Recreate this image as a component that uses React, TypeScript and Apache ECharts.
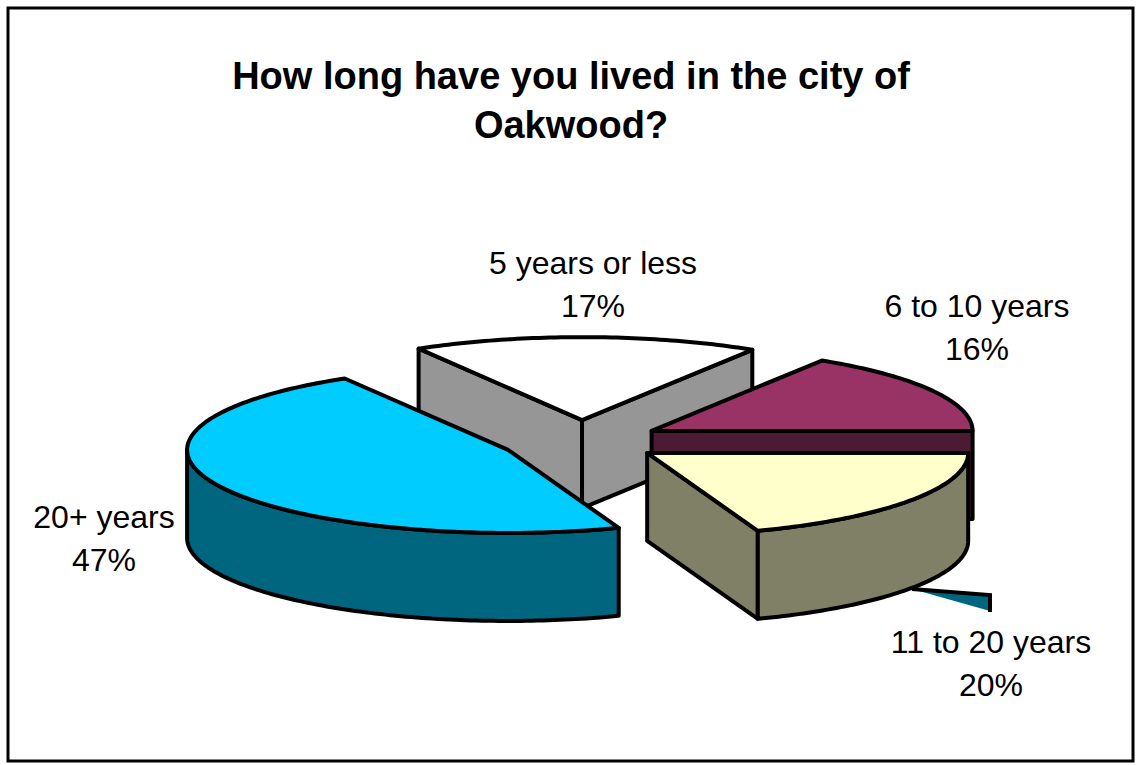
import React, { useEffect, useRef } from "react";
import * as echarts from "echarts";

const categories = ["5 years or less", "6 to 10 years", "11 to 20 years", "20+ years"];
const shares = [17.4, 16.1, 19.4, 47.1];
const percentLabels = ["17%", "16%", "20%", "47%"];
const topColors = ["#ffffff", "#993366", "#ffffcc", "#00ccff"];
const wallColors = ["#969696", "#4d1a33", "#808066", "#006680"];
const labelCenters = [
  [593, 284],
  [977, 327],
  [991, 663],
  [104, 538],
];

const FONT = '"Liberation Sans", Arial, sans-serif';
const PIE = { cx: 581, cy: 441, rx: 321, ry: 83, depth: 88, explode: 80.7, start: 239.4 };
const STROKE = { stroke: "#000", lineWidth: 4, lineJoin: "round" as const };
const total = shares.reduce((a, b) => a + b, 0);

function rad(d: number) {
  return (d * Math.PI) / 180;
}

function renderItem(_params: any, api: any) {
  const i = _params.dataIndex;
  const before = shares.slice(0, i).reduce((a, b) => a + b, 0);
  const value = api.value(0);
  const sweep = (value / total) * 360;
  const raw0 = PIE.start + (before / total) * 360;
  const t0 = raw0 >= 359.999 ? raw0 - 360 : raw0;
  const t1 = t0 + sweep;
  const mid = rad((t0 + t1) / 2);
  const cx = PIE.cx + PIE.explode * Math.cos(mid);
  const cy = PIE.cy + (PIE.explode * Math.sin(mid) * PIE.ry) / PIE.rx;
  const at = (t: number, down = 0) => [
    cx + PIE.rx * Math.cos(rad(t)),
    cy + PIE.ry * Math.sin(rad(t)) + down,
  ];
  const arc = (a: number, b: number, down = 0) => {
    const pts: number[][] = [];
    const n = Math.max(1, Math.ceil(Math.abs(b - a)));
    for (let k = 0; k <= n; k++) pts.push(at(a + ((b - a) * k) / n, down));
    return pts;
  };
  const poly = (points: number[][], fill: string) => ({
    type: "polygon",
    shape: { points },
    style: { fill, ...STROKE },
  });
  const children: any[] = [];
  const wall = wallColors[i];
  const radial = (t: number) =>
    poly([[cx, cy], at(t), at(t, PIE.depth), [cx, cy + PIE.depth]], wall);
  if (Math.cos(rad(t0)) < 0) children.push(radial(t0));
  if (Math.cos(rad(t1)) > 0) children.push(radial(t1));
  const f0 = Math.max(t0, 0);
  const f1 = Math.min(t1, 180);
  if (f1 > f0) {
    children.push(poly([...arc(f0, f1), ...arc(f1, f0, PIE.depth)], wall));
  }
  children.push(poly([[cx, cy], ...arc(t0, t1)], topColors[i]));
  children.push({
    type: "text",
    style: {
      text: `${categories[i]}\n${percentLabels[i]}`,
      x: labelCenters[i][0],
      y: labelCenters[i][1],
      align: "center",
      verticalAlign: "middle",
      fill: "#000",
      font: `32px ${FONT}`,
      lineHeight: 43,
    },
  });
  return { type: "group", children };
}

export default function App() {
  const ref = useRef<HTMLDivElement>(null);
  useEffect(() => {
    document.body.style.margin = "0";
    const chart = echarts.init(ref.current!, null, { renderer: "svg" });
    chart.setOption({
      animation: false,
      backgroundColor: "#fff",
      title: {
        text: "How long have you lived in the city of\nOakwood?",
        left: 566,
        top: 46,
        textAlign: "center",
        textStyle: {
          fontFamily: FONT,
          fontSize: 38,
          fontWeight: "bold",
          color: "#000",
          lineHeight: 49,
        },
      },
      graphic: [
        {
          type: "rect",
          z: 0,
          shape: { x: 8, y: 8, width: 1125, height: 753 },
          style: { fill: "none", stroke: "#000", lineWidth: 3 },
        },
        {
          type: "polygon",
          z: 0,
          shape: { points: [[912, 589], [990, 595], [990, 611]] },
          style: { fill: "#006680", stroke: "none" },
        },
        {
          type: "polyline",
          z: 0,
          shape: { points: [[912, 589], [990, 595], [990, 612]] },
          style: { fill: "none", stroke: "#000", lineWidth: 4 },
        },
      ],
      series: [
        {
          type: "custom",
          coordinateSystem: "none",
          z: 5,
          silent: true,
          renderItem,
          data: shares.map((v) => [v]),
        },
      ],
    });
    return () => chart.dispose();
  }, []);
  return <div ref={ref} style={{ width: 1140, height: 765 }} />;
}
